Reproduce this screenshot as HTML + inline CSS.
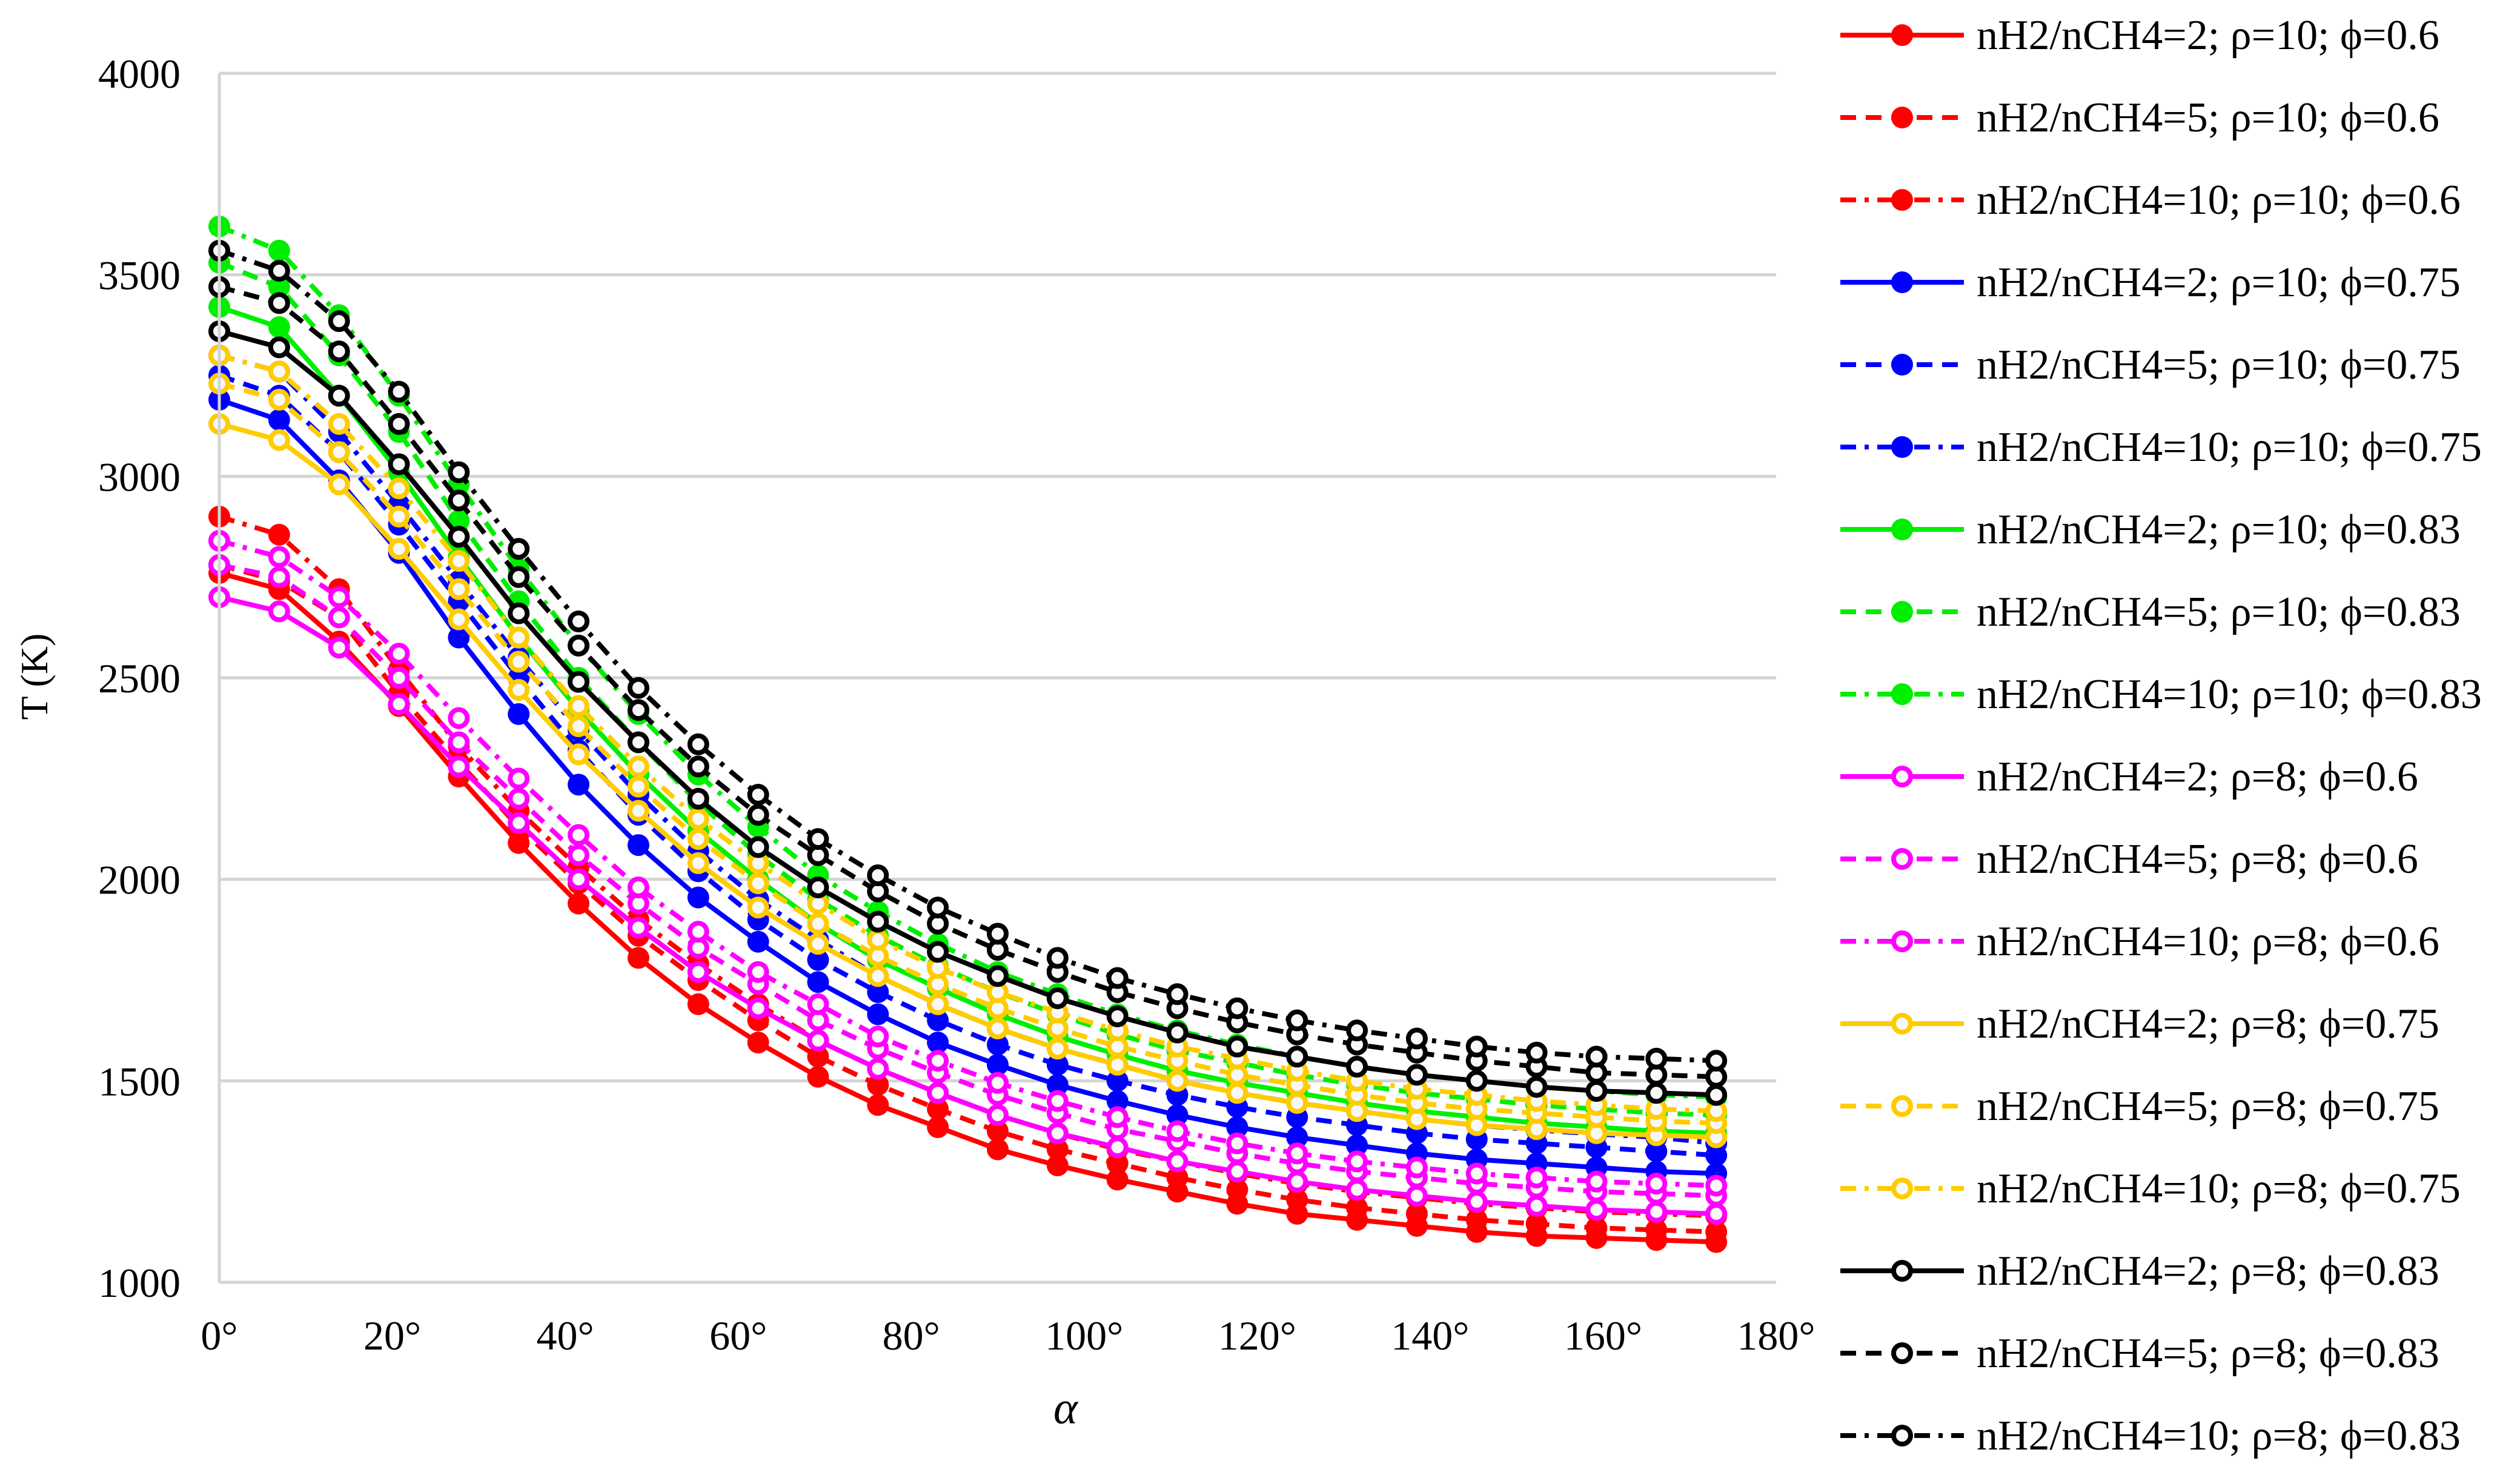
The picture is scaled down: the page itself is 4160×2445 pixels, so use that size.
<!DOCTYPE html>
<html><head><meta charset="utf-8">
<style>
html,body{margin:0;padding:0;background:#fff;}
svg{display:block;}
text{font-family:"Liberation Serif","DejaVu Serif",serif;fill:#000;}
</style></head>
<body>
<svg id="chart" width="4160" height="2445" viewBox="0 0 4160 2445" xmlns="http://www.w3.org/2000/svg">
<g id="grid"></g>
<g id="series"></g>
<g id="axes"></g>
<g id="legend"></g>
</svg>
<script>
const yTicks = [1000,1500,2000,2500,3000,3500,4000];
const xTicks = [0,20,40,60,80,100,120,140,160,180];
const xTickLabels = ["0°","20°","40°","60°","80°","100°","120°","140°","160°","180°"];
const alphaStep = 180/26;
const alphas = [0,1,2,3,4,5,6,7,8,9,10,11,12,13,14,15,16,17,18,19,20,21,22,23,24,25].map(i=>i*alphaStep);
const seriesNames = [
 "nH2/nCH4=2; ρ=10; ϕ=0.6","nH2/nCH4=5; ρ=10; ϕ=0.6","nH2/nCH4=10; ρ=10; ϕ=0.6",
 "nH2/nCH4=2; ρ=10; ϕ=0.75","nH2/nCH4=5; ρ=10; ϕ=0.75","nH2/nCH4=10; ρ=10; ϕ=0.75",
 "nH2/nCH4=2; ρ=10; ϕ=0.83","nH2/nCH4=5; ρ=10; ϕ=0.83","nH2/nCH4=10; ρ=10; ϕ=0.83",
 "nH2/nCH4=2; ρ=8; ϕ=0.6","nH2/nCH4=5; ρ=8; ϕ=0.6","nH2/nCH4=10; ρ=8; ϕ=0.6",
 "nH2/nCH4=2; ρ=8; ϕ=0.75","nH2/nCH4=5; ρ=8; ϕ=0.75","nH2/nCH4=10; ρ=8; ϕ=0.75",
 "nH2/nCH4=2; ρ=8; ϕ=0.83","nH2/nCH4=5; ρ=8; ϕ=0.83","nH2/nCH4=10; ρ=8; ϕ=0.83"];
const red2 = [2760,2720,2590,2430,2255,2090,1940,1805,1690,1595,1510,1440,1385,1330,1290,1255,1225,1195,1170,1155,1140,1125,1115,1110,1105,1100];
const red5 = [2780,2740,2650,2460,2290,2130,1990,1860,1750,1650,1560,1490,1430,1375,1330,1295,1260,1230,1205,1185,1170,1155,1145,1135,1130,1125];
const red10 = [2900,2855,2720,2520,2330,2170,2030,1900,1790,1690,1600,1530,1470,1415,1370,1330,1300,1270,1245,1225,1210,1195,1185,1175,1170,1165];
const blue2 = [3190,3140,2990,2810,2600,2410,2235,2085,1955,1845,1745,1665,1595,1540,1490,1450,1415,1385,1360,1340,1320,1305,1295,1285,1275,1270];
const blue5 = [3250,3200,3060,2880,2690,2500,2320,2160,2020,1900,1800,1720,1650,1590,1540,1500,1465,1435,1410,1390,1370,1355,1345,1335,1325,1315];
const blue10 = [3300,3260,3110,2930,2740,2550,2370,2210,2070,1950,1850,1760,1690,1630,1580,1540,1500,1470,1445,1425,1405,1390,1378,1368,1360,1345];
const green2 = [3420,3370,3200,3010,2800,2600,2420,2260,2120,2000,1890,1800,1730,1665,1610,1565,1525,1495,1470,1445,1425,1410,1395,1385,1375,1370];
const green5 = [3530,3470,3300,3110,2890,2690,2500,2340,2190,2060,1950,1860,1785,1720,1665,1615,1575,1545,1515,1490,1470,1455,1440,1430,1420,1415];
const green10 = [3620,3560,3400,3200,2980,2770,2580,2410,2260,2130,2010,1920,1840,1770,1715,1665,1625,1590,1560,1535,1515,1500,1485,1475,1465,1460];
const mag2 = [2700,2665,2575,2435,2280,2140,2000,1880,1770,1680,1600,1530,1470,1415,1370,1335,1300,1275,1250,1230,1215,1200,1190,1180,1175,1170];
const mag5 = [2780,2750,2650,2500,2340,2200,2060,1940,1830,1740,1650,1580,1520,1465,1420,1380,1350,1320,1295,1275,1260,1245,1235,1225,1220,1215];
const mag10 = [2840,2800,2700,2560,2400,2250,2110,1980,1870,1770,1690,1610,1550,1495,1450,1410,1375,1345,1320,1300,1285,1270,1260,1250,1245,1240];
const yel2 = [3130,3090,2980,2820,2645,2470,2310,2170,2040,1930,1840,1760,1690,1630,1580,1540,1500,1470,1445,1425,1405,1390,1380,1370,1365,1360];
const yel5 = [3230,3190,3060,2900,2720,2540,2380,2230,2100,1990,1890,1810,1740,1680,1630,1585,1550,1515,1490,1465,1445,1430,1420,1410,1400,1395];
const yel10 = [3300,3260,3130,2970,2790,2600,2430,2280,2150,2040,1940,1850,1780,1720,1670,1625,1585,1555,1525,1500,1480,1465,1450,1440,1430,1425];
const blk2 = [3360,3320,3200,3030,2850,2660,2490,2340,2200,2080,1980,1895,1820,1760,1705,1660,1620,1585,1560,1535,1515,1500,1485,1475,1470,1465];
const blk5 = [3470,3430,3310,3130,2940,2750,2580,2420,2280,2160,2060,1970,1890,1825,1770,1720,1680,1645,1615,1590,1570,1550,1535,1520,1515,1510];
const blk10 = [3560,3510,3385,3210,3010,2820,2640,2475,2335,2210,2100,2010,1930,1865,1805,1755,1715,1680,1650,1625,1605,1585,1570,1560,1555,1550];
const seriesValues = [red2,red5,red10,blue2,blue5,blue10,green2,green5,green10,mag2,mag5,mag10,yel2,yel5,yel10,blk2,blk5,blk10];
const seriesColors = ["#ff0000","#ff0000","#ff0000","#0000ff","#0000ff","#0000ff","#00ee00","#00ee00","#00ee00","#ff00ff","#ff00ff","#ff00ff","#ffcc00","#ffcc00","#ffcc00","#000000","#000000","#000000"];

const NS="http://www.w3.org/2000/svg";
const PL=362, PR=2932, PT=121, PB=2117;
const xs = a => PL + (a-0)/(180-0)*(PR-PL);
const ys = v => PB - (v-1000)/(4000-1000)*(PB-PT);
function mk(tag, attrs, parent){const e=document.createElementNS(NS,tag);for(const k in attrs)e.setAttribute(k,attrs[k]);parent.appendChild(e);return e;}
const grid=document.getElementById('grid'), axes=document.getElementById('axes'), sg=document.getElementById('series'), lg=document.getElementById('legend');

yTicks.forEach(v=>{
  const l=mk('line',{x1:PL,x2:PR,y1:ys(v),y2:ys(v),stroke:'#d4d4d4','stroke-width':5},grid);
  
  
  const t=mk('text',{x:298,y:ys(v)+24,'font-size':68,'text-anchor':'end'},axes);
  t.textContent=v;
  
  
});
const ax=mk('line',{x1:PL,x2:PL,y1:PT,y2:PB,stroke:'#d4d4d4','stroke-width':5},axes);


xTicks.forEach((a,i)=>{
  const t=mk('text',{x:xs(a),y:2228,'font-size':68,'text-anchor':'middle'},axes);
  t.textContent=xTickLabels[i];
  
  
});
const xt=mk('text',{x:1759,y:2350,'font-size':76,'font-style':'italic','text-anchor':'middle'},axes);
xt.textContent='α';


const yt=mk('text',{x:0,y:0,'font-size':64,'text-anchor':'middle',transform:'translate(78,1117) rotate(-90)'},axes);
yt.textContent='T (K)';



function dash(i){const k=i%3; return k===0?'none':(k===1?'26 16':'26 14 7 14');}
function marker(parent,x,y,i){
  if(i<9){ return mk('circle',{cx:x,cy:y,r:18,fill:seriesColors[i]},parent); }
  return mk('circle',{cx:x,cy:y,r:14,fill:'#f8f8f8',stroke:seriesColors[i],'stroke-width':8},parent);
}
seriesValues.forEach((vals,i)=>{
  const g=mk('g',{},sg);
  
  
  const d=vals.map((v,j)=>(j?'L':'M')+xs(alphas[j]).toFixed(1)+' '+ys(v).toFixed(1)).join(' ');
  const p=mk('path',{d:d,fill:'none',stroke:seriesColors[i],'stroke-width':8,'stroke-dasharray':dash(i)},g);
  
  
  vals.forEach((v,j)=>{
    const c=marker(g,xs(alphas[j]),ys(v),i);
    
    
  });
});

seriesNames.forEach((n,i)=>{
  const y=58+i*136;
  const g=mk('g',{},lg);
  
  
  const l=mk('line',{x1:3038,x2:3242,y1:y,y2:y,stroke:seriesColors[i],'stroke-width':8,'stroke-dasharray':dash(i)},g);
  
  
  const c=marker(g,3140,y,i);
  
  
  const t=mk('text',{x:3263,y:y+23,'font-size':70},g);
  t.textContent=n;
  
  
});
</script>
</body></html>
